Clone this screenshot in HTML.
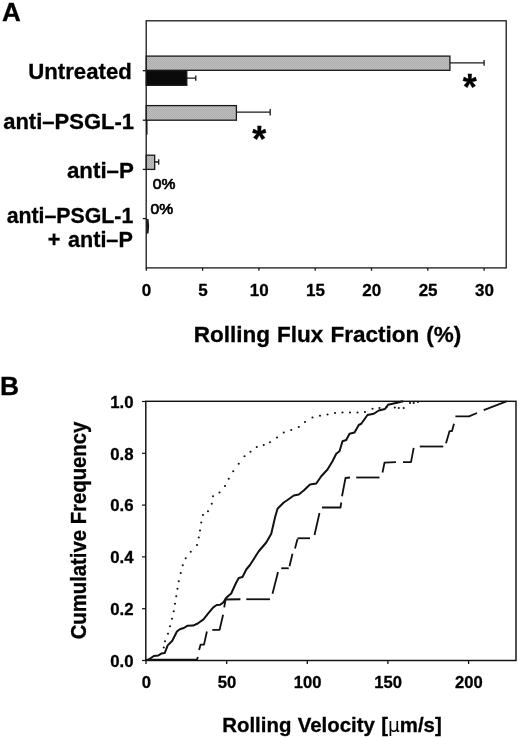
<!DOCTYPE html>
<html><head><meta charset="utf-8"><title>Figure</title>
<style>html,body{margin:0;padding:0;background:#fff}svg{display:block}</style></head>
<body>
<svg width="520" height="738" viewBox="0 0 520 738">
<defs><pattern id="ht" width="2" height="2" patternUnits="userSpaceOnUse"><rect width="2" height="2" fill="#bfbfbf"/><rect width="1" height="1" fill="#adadad"/><rect x="1" y="1" width="1" height="1" fill="#adadad"/></pattern></defs>
<rect width="520" height="738" fill="#fff"/>
<g font-family="'Liberation Sans', Arial, Helvetica, sans-serif" font-weight="bold" fill="#000" stroke="#000" stroke-width="0.3">
<text x="1.9" y="20.8" font-size="26">A</text>
<text x="0.1" y="394.8" font-size="26.4">B</text>
<text x="131.8" y="79.2" font-size="22.2" text-anchor="end">Untreated</text>
<text x="134" y="128.8" font-size="22" text-anchor="end">anti–PSGL-1</text>
<text x="133.9" y="177.8" font-size="22.3" text-anchor="end">anti–P</text>
<text x="133.3" y="222.8" font-size="21.3" text-anchor="end">anti–PSGL-1</text>
<text x="132.8" y="247.3" font-size="21.6" text-anchor="end">anti–P</text>
<text x="47.8" y="247.3" font-size="21.6">+</text>
<text x="152.7" y="188.8" font-size="15.3" font-weight="normal" stroke-width="0.7" textLength="22.6" lengthAdjust="spacingAndGlyphs">0%</text>
<text x="150.5" y="214.2" font-size="15.3" font-weight="normal" stroke-width="0.7" textLength="22.6" lengthAdjust="spacingAndGlyphs">0%</text>
<text x="469.7" y="100" font-size="36" text-anchor="middle">*</text>
<text x="259.2" y="151.5" font-size="36" text-anchor="middle">*</text>
<text x="146.6" y="296.3" font-size="17" text-anchor="middle">0</text>
<text x="202.9" y="296.3" font-size="17" text-anchor="middle">5</text>
<text x="259.2" y="296.3" font-size="17" text-anchor="middle">10</text>
<text x="315.5" y="296.3" font-size="17" text-anchor="middle">15</text>
<text x="371.8" y="296.3" font-size="17" text-anchor="middle">20</text>
<text x="428.1" y="296.3" font-size="17" text-anchor="middle">25</text>
<text x="484.4" y="296.3" font-size="17" text-anchor="middle">30</text>
<text x="327.5" y="342" font-size="22.5" text-anchor="middle" style="word-spacing:0.8px">Rolling Flux Fraction (%)</text>
<text x="133.6" y="407.7" font-size="16.8" text-anchor="end">1.0</text>
<text x="133.6" y="459.5" font-size="16.8" text-anchor="end">0.8</text>
<text x="133.6" y="511.3" font-size="16.8" text-anchor="end">0.6</text>
<text x="133.6" y="563.1" font-size="16.8" text-anchor="end">0.4</text>
<text x="133.6" y="614.9" font-size="16.8" text-anchor="end">0.2</text>
<text x="133.6" y="666.7" font-size="16.8" text-anchor="end">0.0</text>
<text x="146.3" y="688.4" font-size="16.6" text-anchor="middle">0</text>
<text x="227.0" y="688.4" font-size="16.6" text-anchor="middle">50</text>
<text x="307.6" y="688.4" font-size="16.6" text-anchor="middle">100</text>
<text x="388.2" y="688.4" font-size="16.6" text-anchor="middle">150</text>
<text x="468.9" y="688.4" font-size="16.6" text-anchor="middle">200</text>
<text x="332.0" y="731.9" font-size="20.4" text-anchor="middle" style="word-spacing:0.7px">Rolling Velocity [<tspan font-weight="normal" stroke="none" font-family="'DejaVu Sans', 'Liberation Sans', sans-serif" font-size="18.6">μ</tspan>m/s]</text>
<text transform="translate(86.1,530.5) scale(1.09,1) rotate(-90)" font-size="20.3" text-anchor="middle">Cumulative Frequency</text>
</g>
<g stroke="#181818" stroke-width="1.3" fill="none">
<rect x="146.2" y="20.8" width="360" height="247.1"/>
<line x1="142.8" y1="70.7" x2="146.3" y2="70.7"/>
<line x1="142.8" y1="120.2" x2="146.3" y2="120.2"/>
<line x1="142.8" y1="169.4" x2="146.3" y2="169.4"/>
<line x1="142.8" y1="218.6" x2="146.3" y2="218.6"/>
<line x1="146.3" y1="267.9" x2="146.3" y2="270.8"/>
<line x1="202.6" y1="267.9" x2="202.6" y2="270.8"/>
<line x1="258.9" y1="267.9" x2="258.9" y2="270.8"/>
<line x1="315.2" y1="267.9" x2="315.2" y2="270.8"/>
<line x1="371.5" y1="267.9" x2="371.5" y2="270.8"/>
<line x1="427.8" y1="267.9" x2="427.8" y2="270.8"/>
<line x1="484.1" y1="267.9" x2="484.1" y2="270.8"/>
<rect x="146.3" y="56.1" width="303.6" height="14.2" fill="url(#ht)"/>
<path d="M449.9 62.9H484.1M484.1 60.0V65.8"/>
<rect x="146.3" y="70.7" width="40.5" height="14.6" fill="#0a0a0a"/>
<path d="M186.8 78.1H195.8M195.8 75.5V80.69999999999999"/>
<rect x="146.3" y="105.6" width="90.1" height="14.6" fill="url(#ht)"/>
<path d="M236.4 112.2H270.2M270.2 109.0V115.4"/>
<rect x="146.3" y="155.2" width="8.4" height="14.2" fill="url(#ht)"/>
<path d="M154.7 162H158.7M158.7 159.2V164.8"/>
<rect x="146.3" y="120.2" width="1.2" height="14.5" fill="#0a0a0a" stroke="none"/>
<path d="M146.3 218.8L148.5 219Q149.9 226 148.5 233.6L146.3 233.8Z" fill="#1a1a1a" stroke="none"/>
</g>
<g stroke="#111" fill="none">
<rect x="145.8" y="401.3" width="370.2" height="259.2" stroke-width="1.45"/>
<line x1="142" y1="401.5" x2="145.8" y2="401.5" stroke-width="1.2"/>
<line x1="142" y1="453.3" x2="145.8" y2="453.3" stroke-width="1.2"/>
<line x1="142" y1="505.1" x2="145.8" y2="505.1" stroke-width="1.2"/>
<line x1="142" y1="556.9" x2="145.8" y2="556.9" stroke-width="1.2"/>
<line x1="142" y1="608.7" x2="145.8" y2="608.7" stroke-width="1.2"/>
<line x1="142" y1="660.5" x2="145.8" y2="660.5" stroke-width="1.2"/>
<line x1="146.0" y1="660.5" x2="146.0" y2="664" stroke-width="1.3"/>
<line x1="226.7" y1="660.5" x2="226.7" y2="664" stroke-width="1.3"/>
<line x1="307.3" y1="660.5" x2="307.3" y2="664" stroke-width="1.3"/>
<line x1="387.9" y1="660.5" x2="387.9" y2="664" stroke-width="1.3"/>
<line x1="468.6" y1="660.5" x2="468.6" y2="664" stroke-width="1.3"/>
<polyline points="148.00,660.00 153.80,656.00 158.50,655.40 161.30,653.60 164.80,652.90 167.70,645.40 172.30,640.80 176.90,631.50 179.80,629.20 183.80,628.00 187.30,625.80 193.10,625.60 197.70,623.50 203.50,619.40 208.00,613.70 213.30,607.30 216.70,605.00 220.20,604.80 223.70,602.10 226.00,598.10 231.20,593.50 236.25,582.50 238.75,578.00 242.50,577.00 246.25,569.50 250.00,565.00 258.75,551.25 266.25,542.50 271.25,533.75 275.00,517.50 277.50,508.75 283.75,502.50 287.50,500.00 293.75,495.50 298.75,494.50 303.75,490.50 310.00,484.50 316.25,483.50 321.25,476.25 327.50,469.50 332.50,461.25 336.25,453.75 339.50,451.25 342.50,441.25 346.25,440.00 349.50,433.75 354.50,432.50 358.75,425.00 361.25,423.75 367.50,415.00 373.75,413.75 378.75,410.50 385.00,409.00 388.00,404.80 396.00,403.00 403.00,401.30" stroke-width="2" stroke-linejoin="round"/>
<polyline points="146.00,659.60 197.00,659.60 197.90,657.00" stroke-width="1.8" stroke-linejoin="round"/>
<polyline points="199.10,650.00 200.60,644.60 204.00,644.60 206.90,631.50" stroke-width="1.8" stroke-linejoin="round"/>
<polyline points="212.30,629.80 219.60,629.80 223.10,614.80" stroke-width="1.8" stroke-linejoin="round"/>
<polyline points="224.20,607.30 225.60,599.50 240.40,599.25" stroke-width="1.8" stroke-linejoin="round"/>
<polyline points="246.25,599.25 270.00,599.25" stroke-width="1.8" stroke-linejoin="round"/>
<polyline points="272.50,593.75 278.00,572.00" stroke-width="1.8" stroke-linejoin="round"/>
<polyline points="281.25,568.25 288.75,568.25" stroke-width="1.8" stroke-linejoin="round"/>
<polyline points="289.50,566.25 292.50,553.75" stroke-width="1.8" stroke-linejoin="round"/>
<polyline points="295.00,548.50 297.50,539.00" stroke-width="1.8" stroke-linejoin="round"/>
<polyline points="297.50,538.25 310.00,538.25" stroke-width="1.8" stroke-linejoin="round"/>
<polyline points="314.50,535.00 319.50,513.00" stroke-width="1.8" stroke-linejoin="round"/>
<polyline points="322.00,507.50 340.50,507.50 341.25,502.50" stroke-width="1.8" stroke-linejoin="round"/>
<polyline points="342.00,496.25 345.50,478.00 350.00,477.50" stroke-width="1.8" stroke-linejoin="round"/>
<polyline points="356.25,477.50 379.50,477.50" stroke-width="1.8" stroke-linejoin="round"/>
<polyline points="382.50,472.50 384.50,462.70 396.00,462.20" stroke-width="1.8" stroke-linejoin="round"/>
<polyline points="403.00,462.20 411.00,462.20 413.70,447.90" stroke-width="1.8" stroke-linejoin="round"/>
<polyline points="419.80,446.50 443.30,446.50" stroke-width="1.8" stroke-linejoin="round"/>
<polyline points="446.00,443.30 449.50,431.20 452.00,431.00 454.00,423.70" stroke-width="1.8" stroke-linejoin="round"/>
<polyline points="455.40,416.40 469.00,416.40 477.00,413.00" stroke-width="1.8" stroke-linejoin="round"/>
<polyline points="483.70,410.20 506.50,401.30" stroke-width="1.8" stroke-linejoin="round"/>
</g>
<g fill="#111">
<circle cx="163.75" cy="647.50" r="1.05"/>
<circle cx="165.00" cy="641.25" r="1.05"/>
<circle cx="168.00" cy="633.75" r="1.05"/>
<circle cx="170.00" cy="626.25" r="1.05"/>
<circle cx="172.00" cy="618.75" r="1.05"/>
<circle cx="173.75" cy="611.25" r="1.05"/>
<circle cx="175.00" cy="603.75" r="1.05"/>
<circle cx="176.25" cy="596.25" r="1.05"/>
<circle cx="177.50" cy="588.75" r="1.05"/>
<circle cx="178.75" cy="581.25" r="1.05"/>
<circle cx="180.75" cy="573.00" r="1.05"/>
<circle cx="182.75" cy="565.30" r="1.05"/>
<circle cx="185.75" cy="558.25" r="1.05"/>
<circle cx="190.75" cy="551.75" r="1.05"/>
<circle cx="197.00" cy="545.00" r="1.05"/>
<circle cx="198.75" cy="537.50" r="1.05"/>
<circle cx="200.00" cy="530.50" r="1.05"/>
<circle cx="201.25" cy="522.50" r="1.05"/>
<circle cx="203.00" cy="515.00" r="1.05"/>
<circle cx="208.00" cy="511.25" r="1.05"/>
<circle cx="211.75" cy="503.75" r="1.05"/>
<circle cx="213.00" cy="496.25" r="1.05"/>
<circle cx="219.50" cy="492.50" r="1.05"/>
<circle cx="225.00" cy="486.00" r="1.05"/>
<circle cx="228.75" cy="478.75" r="1.05"/>
<circle cx="233.25" cy="471.25" r="1.05"/>
<circle cx="238.75" cy="463.75" r="1.05"/>
<circle cx="244.50" cy="456.25" r="1.05"/>
<circle cx="250.50" cy="451.75" r="1.05"/>
<circle cx="256.75" cy="447.00" r="1.05"/>
<circle cx="263.75" cy="445.00" r="1.05"/>
<circle cx="270.00" cy="442.20" r="1.05"/>
<circle cx="277.00" cy="437.50" r="1.05"/>
<circle cx="283.75" cy="432.50" r="1.05"/>
<circle cx="291.25" cy="430.00" r="1.05"/>
<circle cx="298.75" cy="427.00" r="1.05"/>
<circle cx="305.00" cy="422.00" r="1.05"/>
<circle cx="312.50" cy="417.50" r="1.05"/>
<circle cx="320.00" cy="415.75" r="1.05"/>
<circle cx="327.50" cy="414.50" r="1.05"/>
<circle cx="335.00" cy="413.00" r="1.05"/>
<circle cx="342.50" cy="412.50" r="1.05"/>
<circle cx="350.00" cy="412.50" r="1.05"/>
<circle cx="357.50" cy="412.50" r="1.05"/>
<circle cx="365.00" cy="412.00" r="1.05"/>
<circle cx="372.50" cy="408.75" r="1.05"/>
<circle cx="379.50" cy="408.00" r="1.05"/>
<circle cx="386.50" cy="407.20" r="1.05"/>
<circle cx="394.80" cy="407.50" r="1.05"/>
<circle cx="398.80" cy="408.00" r="1.05"/>
<circle cx="403.70" cy="408.00" r="1.05"/>
<circle cx="410.00" cy="403.00" r="1.05"/>
<circle cx="413.70" cy="403.00" r="1.05"/>
<circle cx="418.00" cy="402.00" r="1.05"/>
</g>
</svg>
</body></html>
